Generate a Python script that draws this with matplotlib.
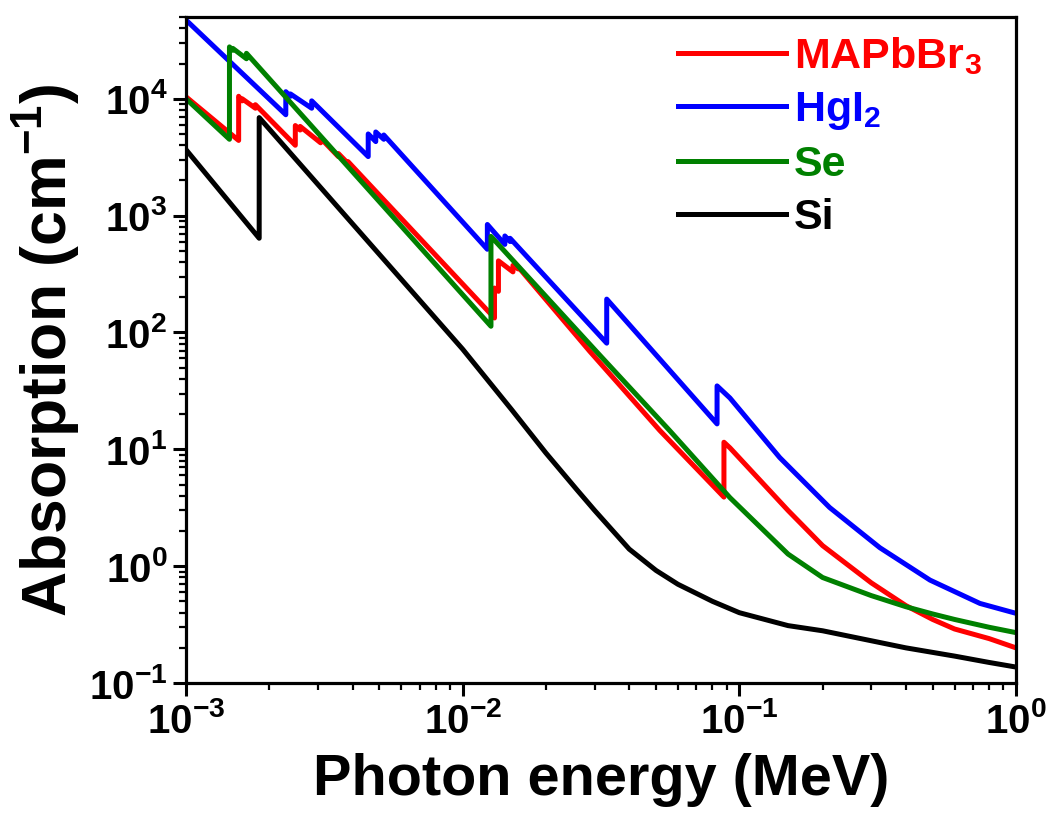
import numpy as np
import matplotlib
matplotlib.use('Agg')
import matplotlib.pyplot as plt
from matplotlib.ticker import LogLocator, FuncFormatter, NullFormatter

plt.rcParams['font.family'] = 'Liberation Sans'
plt.rcParams['font.weight'] = 'bold'
plt.rcParams['mathtext.fontset'] = 'custom'
plt.rcParams['mathtext.rm'] = 'Liberation Sans:bold'
plt.rcParams['mathtext.it'] = 'Liberation Sans:bold'
plt.rcParams['mathtext.bf'] = 'Liberation Sans:bold'
plt.rcParams['mathtext.default'] = 'rm'

# photon energy (MeV) and absorption (cm^-1)
mapbbr3_e = [1.0e-3, 1.55e-3, 1.55e-3, 1.596e-3, 1.596e-3, 1.782e-3, 1.782e-3,
             2.484e-3, 2.484e-3, 2.586e-3, 2.586e-3, 3.066e-3, 3.066e-3,
             3.554e-3, 3.554e-3, 3.851e-3, 3.851e-3, 13.035e-3, 13.035e-3,
             13.47e-3, 13.47e-3, 15.2e-3, 15.2e-3, 15.86e-3, 15.86e-3,
             28.8e-3, 51.6e-3, 88.0e-3, 88.0e-3, 0.0925, 0.15, 0.2, 0.3,
             0.4, 0.5, 0.6, 0.8, 1.0]
mapbbr3_a = [1.04e4, 4.4e3, 1.05e4, 9.6e3, 1.0e4, 8.3e3, 8.9e3,
             4.0e3, 5.9e3, 5.4e3, 5.8e3, 4.2e3, 4.6e3,
             3.2e3, 3.4e3, 2.8e3, 2.9e3, 133, 240,
             225, 410, 330, 375, 350, 365,
             69, 14.5, 3.9, 11.5, 10.3, 3.0, 1.5, 0.72,
             0.46, 0.35, 0.29, 0.24, 0.20]

hgi2_e = [1.0e-3, 2.295e-3, 2.295e-3, 2.385e-3, 2.385e-3, 2.847e-3, 2.847e-3,
          4.557e-3, 4.557e-3, 4.852e-3, 4.852e-3, 5.188e-3, 5.188e-3,
          12.284e-3, 12.284e-3, 14.209e-3, 14.209e-3, 14.839e-3, 14.839e-3,
          33.17e-3, 33.17e-3, 83.1e-3, 83.1e-3, 0.0925, 0.14, 0.212, 0.322,
          0.489, 0.741, 1.0]
hgi2_a = [4.72e4, 7.3e3, 1.15e4, 1.05e4, 1.1e4, 8.3e3, 9.6e3,
          3.2e3, 5.0e3, 4.3e3, 5.2e3, 4.5e3, 4.9e3,
          515, 840, 567, 670, 600, 640,
          81, 193, 16.5, 34.9, 27.5, 8.5, 3.18, 1.44,
          0.76, 0.48, 0.395]

se_e = [1.0e-3, 1.436e-3, 1.436e-3, 1.476e-3, 1.476e-3, 1.654e-3, 1.654e-3,
        12.658e-3, 12.658e-3, 31.3e-3, 56.1e-3, 0.0925, 0.15, 0.2, 0.3,
        0.4, 0.5, 0.6, 0.8, 1.0]
se_a = [1.0e4, 4.5e3, 2.78e4, 2.6e4, 2.7e4, 2.2e4, 2.45e4,
        113, 664, 64, 14.4, 3.86, 1.27, 0.80, 0.56,
        0.45, 0.39, 0.35, 0.30, 0.27]

si_e = [1.0e-3, 1.839e-3, 1.839e-3, 10e-3, 15e-3, 20e-3, 25.9e-3, 30e-3,
        40e-3, 50e-3, 60e-3, 80e-3, 0.1, 0.15, 0.2, 0.3, 0.4, 0.6, 0.8, 1.0]
si_a = [3.67e3, 640, 6.9e3, 72, 22, 9.3, 4.5, 3.0,
        1.4, 0.92, 0.70, 0.50, 0.40, 0.31, 0.28, 0.23, 0.20, 0.17, 0.15, 0.137]

series = [('MAPbBr$_3$', mapbbr3_e, mapbbr3_a, '#ff0000'),
          ('HgI$_2$', hgi2_e, hgi2_a, '#0000ff'),
          ('Se', se_e, se_a, '#008000'),
          ('Si', si_e, si_a, '#000000')]

fig = plt.figure(figsize=(10.49, 8.14), dpi=100)
ax = fig.add_axes([0.1773, 0.1609, 0.7912, 0.8181])

for name, e, a, c in series:
    ax.plot(e, a, color=c, linewidth=3.6, label=name)

ax.set_xscale('log')
ax.set_yscale('log')
ax.set_xlim(1e-3, 1)
ax.set_ylim(1e-1, 5e4)

fmt = FuncFormatter(lambda v, p: r'$10^{%d}$' % round(np.log10(v)))
ax.xaxis.set_major_locator(LogLocator(base=10, numticks=10))
ax.yaxis.set_major_locator(LogLocator(base=10, numticks=10))
ax.xaxis.set_minor_locator(LogLocator(base=10, subs=np.arange(2, 10), numticks=10))
ax.yaxis.set_minor_locator(LogLocator(base=10, subs=np.arange(2, 10), numticks=10))
ax.xaxis.set_major_formatter(fmt)
ax.yaxis.set_major_formatter(fmt)
ax.xaxis.set_minor_formatter(NullFormatter())
ax.yaxis.set_minor_formatter(NullFormatter())

ax.tick_params(which='major', direction='out', length=9.5, width=2.2, labelsize=29, pad=4)
ax.tick_params(which='minor', direction='out', length=5, width=1.6)
for s in ax.spines.values():
    s.set_linewidth(2.3)

ax.set_xlabel('Photon energy (MeV)', fontsize=41.5, fontweight='bold', labelpad=9)
ax.set_ylabel('Absorption (cm$^{-1}$)', fontsize=45, fontweight='bold', labelpad=5)

leg = ax.legend(loc='upper right', bbox_to_anchor=(0.959, 0.973), frameon=False,
                fontsize=31, handlelength=2.5, handletextpad=0.19,
                labelspacing=0.3, borderaxespad=0, borderpad=0,
                labelcolor='linecolor')

fig.savefig('out.png', dpi=100)
